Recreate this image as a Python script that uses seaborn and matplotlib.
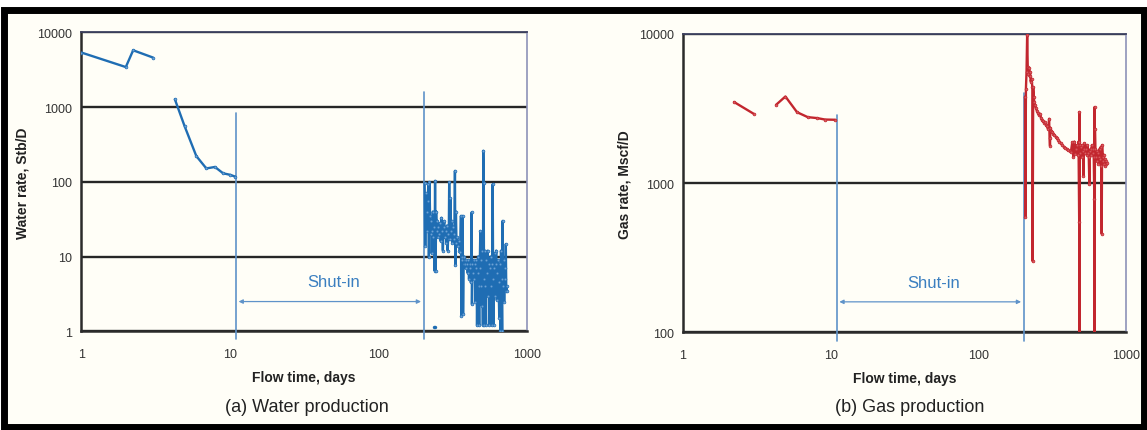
import numpy as np
import pandas as pd
import matplotlib
matplotlib.use("Agg")
import matplotlib.pyplot as plt
import matplotlib.ticker as mticker
from matplotlib.patches import Rectangle
import seaborn as sns

# ---------------- data ----------------
# Water production (a)
water_t1 = [1.0, 1.99, 2.23, 3.03]
water_q1 = [5360, 3430, 5750, 4600]
water_t2 = [4.26, 4.95, 5.94, 6.94, 7.93, 9.0, 10.05, 10.9]
water_q2 = [1270, 557, 221, 151, 158, 130, 124, 117]
water_t3 = [205, 207, 209, 211, 213, 215, 217, 219, 221, 223, 225, 227, 229, 231, 233, 235,
            237, 239, 241, 243, 245, 247, 249, 251, 254, 257, 260, 263, 266, 269, 272, 275,
            278, 281, 284, 287, 290, 293, 296, 298, 300, 303, 306, 309, 312, 315, 318, 322,
            325, 328, 330, 333, 336, 340, 344, 348, 352, 356, 360, 362, 364, 367, 370, 372,
            375, 378, 381, 384, 388, 392, 396, 400, 404, 408, 412, 416, 420, 425, 427, 430,
            434, 438, 442, 446, 450, 454, 458, 462, 466, 470, 474, 478, 482, 486, 490, 494,
            498, 502, 506, 509, 512, 515, 518, 522, 526, 531, 535, 540, 545, 550, 555, 560,
            565, 570, 575, 580, 585, 589, 593, 597, 602, 607, 612, 617, 622, 628, 634, 640,
            646, 652, 658, 664, 670, 676, 682, 687, 692, 698, 704, 710, 716, 722, 727, 731, 735]
water_q3 = [95, 14, 70, 40, 22, 55, 93, 9.8, 98, 35, 20, 30, 11, 22, 40, 18,
            25, 6.5, 103, 6.5, 40, 22, 30, 18, 25, 20, 28, 16, 33, 22, 12, 25,
            30, 18, 22, 15, 26, 12, 20, 17, 98, 17, 60, 22, 30, 15, 25, 20,
            17, 140, 7.6, 40, 15, 18, 14, 16, 12, 11.5, 35, 1.6, 10, 9, 35, 1.7,
            8, 10, 8, 9, 7, 9, 8, 6, 9, 5, 8, 7, 4.5, 39, 2.3, 8,
            6, 9, 5, 8, 2.5, 7, 9, 1.2, 6, 10, 4, 1.2, 7, 22, 4, 9,
            2.2, 12, 1.2, 260, 95, 5, 1.2, 12, 4, 1.2, 9, 6, 12, 3, 8, 1.2,
            7, 10, 4, 1.2, 8, 93, 5, 1.2, 7, 11, 3, 8, 12, 2.6, 6, 9,
            4.5, 1.5, 8, 1.0, 12, 5, 1.0, 30, 4, 9, 2.5, 7, 5, 14.7, 3.5, 4, 3.5]
water_t4 = [237, 239]
water_q4 = [1.15, 1.15]

# Gas production (b)
gas_t1 = [2.22, 3.01]
gas_q1 = [3500, 2920]
gas_t2 = [4.27, 4.94, 5.92, 7.0, 8.1, 9.15, 10.7]
gas_q2 = [3350, 3810, 2990, 2770, 2730, 2670, 2660]
gas_t3 = [206, 207, 209, 211, 213, 215, 217, 219, 221, 223, 225, 228, 231, 232, 234, 236,
          238, 241, 244, 248, 252, 256, 260, 264, 268, 272, 277, 281, 285, 290, 295, 300,
          302, 304, 306, 310, 315, 320, 326, 332, 338, 345, 352, 360, 368, 376, 385, 394,
          403, 412, 421, 430, 437, 444, 450, 456, 462, 468, 474, 479, 480, 481, 483, 488,
          493, 498, 503, 508, 511, 515, 520, 526, 532, 538, 544, 550, 556, 561, 566, 572,
          578, 584, 590, 596, 601, 606, 608, 609, 612, 616, 622, 628, 634, 640, 646, 652,
          658, 664, 670, 676, 680, 684, 690, 696, 702, 708, 714, 720, 726, 731, 735]
gas_q3 = [3800, 590, 4300, 5600, 9800, 6000, 5400, 5900, 5200, 5600, 4800, 5000, 4400, 300, 4400, 3800,
          3500, 3320, 3200, 3050, 2950, 2850, 2920, 2750, 2650, 2600, 2550, 2570, 2450, 2400, 2300, 2700,
          2000, 1780, 2350, 2250, 2200, 2150, 2100, 2050, 2000, 1950, 1900, 1850, 1800, 1760, 1720, 1700,
          1660, 1640, 1620, 1880, 1500, 1900, 1570, 1700, 1800, 1550, 1900, 550, 3000, 90, 1800, 1600,
          1750, 1500, 1800, 1650, 1120, 1700, 1850, 1600, 1700, 1550, 1800, 1600, 1500, 990, 1650, 1700,
          1550, 1800, 1600, 1700, 1500, 785, 3240, 90, 2300, 1700, 1500, 1650, 1400, 1600, 1350, 1500,
          1700, 1450, 1750, 1300, 457, 1800, 1500, 1400, 1550, 1350, 1450, 1300, 1400, 1350, 1370]

shut_in_start = 11
shut_in_end = 202
y_ticks_water = [1, 10, 100, 1000, 10000]
y_ticks_gas = [100, 1000, 10000]
x_ticks = [1, 10, 100, 1000]

# ---------------- style ----------------
sns.set_theme(style="white")
plt.rcParams["font.family"] = ["Liberation Sans", "DejaVu Sans"]

BG = "#fffef7"
BLUE = "#1f6db3"
BLUE_LIGHT = "#5f93c9"
RED = "#c2262e"
DARK = "#2b2b2b"

fig = plt.figure(figsize=(11.47, 4.31), dpi=100, facecolor="white")
fig.patches.append(Rectangle((3.5 / 1147, 3.5 / 431), 1 - 7 / 1147, 1 - 14 / 431,
                             transform=fig.transFigure, facecolor=BG, edgecolor="black",
                             linewidth=5.0, zorder=-10))

ax1 = fig.add_axes([0.0710, 0.2290, 0.3883, 0.6937])
ax2 = fig.add_axes([0.5953, 0.2267, 0.3868, 0.6921])
ax1.set_zorder(2)
ax2.set_zorder(2)


def make_df(pairs):
    rows = []
    for seg, (t, q) in enumerate(pairs):
        for a, b in zip(t, q):
            rows.append({"t": a, "q": b, "seg": seg})
    return pd.DataFrame(rows)


water_df = make_df([(water_t1, water_q1), (water_t2, water_q2), (water_t3, water_q3)])
gas_df = make_df([(gas_t1, gas_q1), (gas_t2, gas_q2), (gas_t3, gas_q3)])


def style_axes(ax, ylim, yticks):
    ax.set_facecolor(BG)
    ax.set_xscale("log")
    ax.set_yscale("log")
    ax.set_xlim(1, 1000)
    ax.set_ylim(*ylim)
    ax.set_xticks(x_ticks)
    ax.set_yticks(yticks)
    ax.xaxis.set_major_formatter(mticker.FuncFormatter(lambda v, p: f"{v:g}"))
    ax.yaxis.set_major_formatter(mticker.FuncFormatter(lambda v, p: f"{v:g}"))
    ax.xaxis.set_minor_locator(mticker.NullLocator())
    ax.yaxis.set_minor_locator(mticker.LogLocator(base=10, subs=np.arange(2, 10)))
    ax.yaxis.set_minor_formatter(mticker.NullFormatter())
    ax.tick_params(axis="both", which="major", direction="out", length=4.5, width=1.3,
                   color=DARK, labelsize=9, labelcolor="#333333")
    ax.tick_params(axis="x", which="major", pad=8, length=4)
    ax.tick_params(axis="y", which="major", pad=2)
    ax.tick_params(axis="y", which="minor", direction="out", length=3, width=1.1, color=DARK)
    for yv in yticks:
        ax.axhline(yv, color="#262626", lw=1.7, zorder=1)
    ax.spines["left"].set_color(DARK)
    ax.spines["left"].set_linewidth(1.8)
    ax.spines["bottom"].set_color(DARK)
    ax.spines["bottom"].set_linewidth(1.8)
    ax.spines["top"].set_color("#3d4160")
    ax.spines["top"].set_linewidth(1.3)
    ax.spines["right"].set_color("#8d92b8")
    ax.spines["right"].set_linewidth(1.2)


def shut_in(ax, top1, top2, bottom, arrow_y, text_y):
    for x, top in ((shut_in_start, top1), (shut_in_end, top2)):
        ax.plot([x, x], [bottom, top], color=BLUE_LIGHT, lw=1.2, clip_on=False, zorder=3)
    ax.annotate("", xy=(shut_in_start * 1.04, arrow_y), xytext=(shut_in_end * 0.96, arrow_y),
                arrowprops=dict(arrowstyle="<|-|>", color=BLUE_LIGHT, lw=0.9,
                                mutation_scale=6, shrinkA=0, shrinkB=0))
    ax.text(50, text_y, "Shut-in", color="#3b7fc0", fontsize=12, ha="center", va="center")


def labels(ax, ylabel, xl_y, yl_x):
    ax.set_ylabel(ylabel, fontsize=10, fontweight="bold", color="#222222")
    ax.set_xlabel("Flow time, days", fontsize=10, fontweight="bold", color="#222222")
    ax.yaxis.set_label_coords(yl_x, 0.5)
    ax.xaxis.set_label_coords(0.5, xl_y)


# Water panel
style_axes(ax1, (1, 10000), y_ticks_water)
sns.lineplot(data=water_df, x="t", y="q", units="seg", estimator=None, sort=False,
             color=BLUE, lw=1.7, marker="o", markersize=2.0, markeredgewidth=0.5,
             markerfacecolor="#6fa3d6", markeredgecolor=BLUE, ax=ax1, zorder=4)
ax1.plot(water_t4, water_q4, color=BLUE, lw=2.5, zorder=4)
shut_in(ax1, 830, 1580, 0.79, 2.5, 4.6)
labels(ax1, "Water rate, Stb/D", -0.128, -0.117)

# Gas panel
style_axes(ax2, (100, 10000), y_ticks_gas)
sns.lineplot(data=gas_df, x="t", y="q", units="seg", estimator=None, sort=False,
             color=RED, lw=1.7, marker="o", markersize=2.0, markeredgewidth=0.5,
             markerfacecolor="#d85a60", markeredgecolor=RED, ax=ax2, zorder=4)
shut_in(ax2, 2860, 4000, 87, 160, 215)
labels(ax2, "Gas rate, Mscf/D", -0.131, -0.115)

fig.text(307 / 1147, 1 - 408 / 431, "(a) Water production", ha="center", va="center",
         fontsize=13, color="#222222")
fig.text(910 / 1147, 1 - 408 / 431, "(b) Gas production", ha="center", va="center",
         fontsize=13, color="#222222")

fig.savefig("out.png", dpi=100, facecolor="white")
